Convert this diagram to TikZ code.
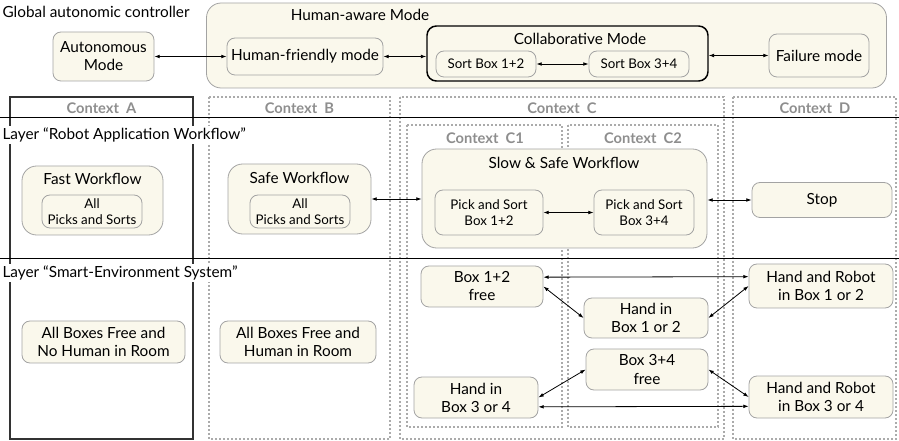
\documentclass[tikz,border=0pt]{standalone}
\usepackage{fontspec}
\setmainfont{Lato}
\usepackage{tikz}
\usetikzlibrary{arrows.meta}
\definecolor{boxfill}{HTML}{FAF8EC}
\definecolor{boxline}{HTML}{A3A3A3}
\definecolor{ctxgray}{HTML}{8E8E8E}
\definecolor{dotgray}{HTML}{ABABAB}
\tikzset{
	state/.style={draw=boxline, fill=boxfill, line width=0.6pt, rounded corners=6pt, inner sep=0pt, align=center},
	container/.style={state, rounded corners=11pt},
	sz/.style 2 args={minimum width=0.75pt*#1, minimum height=0.75pt*#2},
	smalltxt/.style={font=\fontsize{10}{12}\selectfont},
	ctxsolid/.style={draw=black!80, line width=2.2pt},
	ctxdot/.style={draw=dotgray, line width=1.4pt, dash pattern=on 1.4pt off 1.6pt},
	ctxlbl/.style={text=ctxgray, font=\fontsize{11}{13}\selectfont\bfseries},
	layerlbl/.style={anchor=west, fill=white, inner sep=1pt},
	link/.style={<->, line width=0.6pt}
}
\begin{document}
\begin{tikzpicture}[x=0.75pt, y=-0.75pt, >={Latex[length=4pt, width=2.8pt]}, font=\fontsize{11.5}{13.5}\selectfont]
	\useasboundingbox (0,0) rectangle (899,441);
	% contexts
	\draw[ctxsolid] (10,97) rectangle (193,439);
	\draw[ctxdot] (209,97) rectangle (390,439);
	\draw[ctxdot] (400,97) rectangle (724,439);
	\draw[ctxdot] (733,97) rectangle (896,439);
	\draw[ctxdot] (407,125) rectangle (562,427);
	\draw[ctxdot] (568,125) rectangle (718,427);
	\node[ctxlbl] (lblA) at (101.5,108) {Context~~A};
	\node[ctxlbl] (lblB) at (299.5,108) {Context~~B};
	\node[ctxlbl] (lblC) at (562,108) {Context~~C};
	\node[ctxlbl] (lblD) at (815,108) {Context~~D};
	\node[ctxlbl] (lblCa) at (485,138) {Context~~C1};
	\node[ctxlbl] (lblCb) at (643,138) {Context~~C2};
	% layers
	\draw (0,117) -- (899,117);
	\draw (0,258) -- (899,258);
	\node[layerlbl] (gac) at (1,12) {Global autonomic controller};
	\node[layerlbl] (lyrrobot) at (1,135) {Layer “Robot Application Workflow”};
	\node[layerlbl] (lyrsmart) at (1,273) {Layer “Smart-Environment System”};

	% global controller
	\node[container, sz={680}{85}] (haware) at (546.5,45.5) {};
	\node (hawarelbl) at (360,15) {Human-aware Mode};
	\node[state, sz={101}{49}] (auto) at (103.5,56.5) {Autonomous\\Mode};
	\node[state, sz={156}{37}] (hfriendly) at (305,56.5) {Human-friendly mode};
	\node[state, draw=black, line width=1.1pt, rounded corners=7pt, sz={281}{55}] (collab) at (567.5,53.5) {};
	\node (collablbl) at (580,39) {Collaborative Mode};
	\node[state, smalltxt, sz={100}{26}] (sortA) at (486,64) {Sort Box 1+2};
	\node[state, smalltxt, sz={100}{26}] (sortB) at (639,64) {Sort Box 3+4};
	\node[state, sz={100}{43}] (fail) at (819,55.5) {Failure mode};
	\draw[link] (auto) -- (hfriendly);
	\draw[link] (hfriendly.east) -- (hfriendly.east -| collab.west);
	\draw[link] (sortA) -- (sortB);
	\draw[link] (collab.east |- fail.west) -- (fail.west);

	% robot application workflow
	\node[container, sz={141}{69}] (fastwf) at (92.5,200.5) {};
	\node (fastlbl) at (92.5,179) {Fast Workflow};
	\node[state, smalltxt, sz={100}{33}] (fastall) at (92,211.5) {All\\Picks and Sorts};
	\node[container, sz={143}{70}] (safewf) at (299.5,199) {};
	\node (safelbl) at (299.5,178) {Safe Workflow};
	\node[state, smalltxt, sz={100}{33}] (safeall) at (300,211.5) {All\\Picks and Sorts};
	\node[container, sz={285}{99}] (slowwf) at (564.5,198.5) {};
	\node (slowlbl) at (564,163) {Slow \& Safe Workflow};
	\node[state, smalltxt, sz={108}{45}] (pickA) at (489,212.5) {Pick and Sort\\Box 1+2};
	\node[state, smalltxt, sz={100}{45}] (pickB) at (644,212.5) {Pick and Sort\\Box 3+4};
	\node[state, sz={140}{35}] (stop) at (822,200) {Stop};
	\draw[link] (safewf.east) -- (safewf.east -| slowwf.west);
	\draw[link] (pickA) -- (pickB);
	\draw[link] (slowwf.east |- stop.west) -- (stop.west);

	% smart-environment system
	\node[state, sz={163}{42}] (nohuman) at (103.5,342) {All Boxes Free and\\No Human in Room};
	\node[state, sz={156}{42}] (human) at (298,342) {All Boxes Free and\\Human in Room};
	\node[state, sz={122}{41}] (freeA) at (482,286.5) {Box 1+2\\free};
	\node[state, sz={124}{40}] (handA) at (646,318) {Hand in\\Box 1 or 2};
	\node[state, sz={122}{41}] (freeB) at (647,369.5) {Box 3+4\\free};
	\node[state, sz={124}{41}] (handB) at (476,397.5) {Hand in\\Box 3 or 4};
	\node[state, sz={144}{44}] (hrA) at (821,286) {Hand and Robot\\in Box 1 or 2};
	\node[state, sz={144}{42}] (hrB) at (821,397) {Hand and Robot\\in Box 3 or 4};
	\draw[link] ([yshift=7pt]freeA.east) -- ([yshift=7pt]hrA.west);
	\draw[link] (freeA.east) -- (handA.west);
	\draw[link] (hrA.west) -- (handA.east);
	\draw[link] (freeB.west) -- (handB.east);
	\draw[link] (freeB.east) -- (hrB.west);
	\draw[link] ([yshift=-7pt]handB.east) -- ([yshift=-7pt]hrB.west);
\end{tikzpicture}
\end{document}
